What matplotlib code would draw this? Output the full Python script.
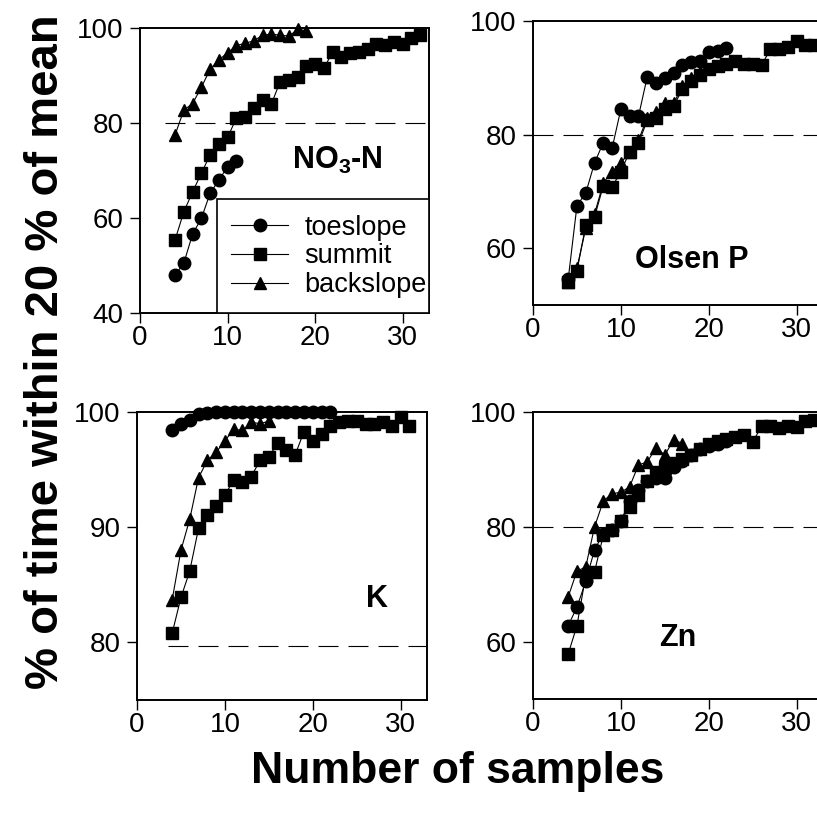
import matplotlib
matplotlib.use("Agg")
import matplotlib.pyplot as plt
from matplotlib.patches import Rectangle

plt.rcParams["font.family"] = ["Liberation Sans", "DejaVu Sans"]
plt.rcParams["mathtext.fontset"] = "custom"
plt.rcParams["mathtext.rm"] = "Liberation Sans:bold"

# ---- data (x = number of samples, y = % of time within 20 % of mean)
NO3_TOE_X = list(range(4, 12))
NO3_TOE_Y = [48.0, 50.5, 56.6, 59.9, 65.2, 68.0, 70.8, 71.9]
NO3_SUM_X = list(range(4, 33))
NO3_SUM_Y = [55.4, 61.3, 65.5, 69.4, 73.3, 75.6, 77.0, 81.0, 81.3, 83.2, 84.8, 84.0, 88.7, 89.1,
             89.6, 91.9, 92.4, 91.5, 95.0, 94.0, 94.7, 95.0, 95.5, 96.6, 96.4, 97.0, 96.6, 97.8, 98.6]
NO3_BACK_X = list(range(4, 20))
NO3_BACK_Y = [77.5, 82.7, 84.1, 87.5, 91.3, 93.3, 94.8, 96.3, 96.8, 97.3, 98.5, 98.7, 98.5, 98.3,
              99.7, 99.4]

OLSEN_TOE_X = list(range(4, 23))
OLSEN_TOE_Y = [54.5, 67.5, 69.7, 75.0, 78.6, 77.6, 84.5, 83.3, 83.2, 90.2, 89.1, 90.0, 90.8, 92.3,
               92.7, 92.9, 94.5, 94.8, 95.2]
OLSEN_SUM_X = list(range(4, 33))
OLSEN_SUM_Y = [54.0, 56.0, 64.0, 65.5, 71.0, 70.8, 73.5, 77.0, 78.5, 82.5, 83.0, 84.5, 85.0, 88.0,
               89.5, 90.5, 91.5, 92.0, 92.5, 93.0, 92.5, 92.5, 92.2, 95.0, 95.0, 95.5, 96.5, 95.8, 95.7]
OLSEN_BACK_X = list(range(4, 20))
OLSEN_BACK_Y = [54.0, 56.5, 63.5, 66.0, 71.5, 73.5, 75.0, 77.0, 79.0, 83.0, 84.0, 85.5, 85.5, 88.5,
                90.0, 91.0]

K_TOE_X = list(range(4, 23))
K_TOE_Y = [98.4, 99.0, 99.3, 99.8, 99.9, 100, 100, 100, 100, 100, 100, 100, 100, 100, 100, 100,
           100, 100, 100]
K_SUM_X = list(range(4, 32))
K_SUM_Y = [80.8, 83.9, 86.2, 89.9, 91.1, 91.8, 92.8, 94.1, 93.9, 94.4, 95.8, 96.1, 97.3, 96.7,
           96.3, 98.3, 97.5, 98.1, 98.8, 99.1, 99.2, 99.2, 99.0, 99.0, 99.1, 98.8, 99.6, 98.8]
K_BACK_X = list(range(4, 16))
K_BACK_Y = [83.7, 88.0, 90.7, 94.3, 95.8, 96.5, 97.5, 98.5, 98.4, 99.1, 99.0, 99.2]

ZN_TOE_X = list(range(4, 23))
ZN_TOE_Y = [62.8, 66.0, 70.5, 76.0, 78.8, 79.5, 81.0, 84.5, 86.5, 88.0, 88.5, 88.5, 90.5, 91.5,
            92.5, 93.5, 94.0, 94.5, 95.0]
ZN_SUM_X = list(range(4, 33))
ZN_SUM_Y = [57.8, 62.8, 71.5, 72.2, 78.5, 79.5, 81.0, 83.5, 85.5, 88.0, 89.5, 90.3, 91.2, 91.8,
            92.5, 93.5, 94.5, 95.0, 95.3, 95.6, 96.0, 94.8, 97.5, 97.6, 97.2, 97.6, 97.4, 98.5, 98.6]
ZN_BACK_X = list(range(4, 18))
ZN_BACK_Y = [67.8, 72.3, 73.0, 80.0, 84.5, 85.8, 86.0, 87.0, 90.8, 91.3, 93.8, 92.5, 95.2, 94.5]

SERIES_NAMES = ["toeslope", "summit", "backslope"]
MARKERS = {"toeslope": ("o", 9), "summit": ("s", 8), "backslope": ("^", 9)}

PANELS = [
    # label, series, ylim, yticks, ref line, label pos, axes rect, dash start
    ("NO$_3$-N", [(NO3_TOE_X, NO3_TOE_Y), (NO3_SUM_X, NO3_SUM_Y), (NO3_BACK_X, NO3_BACK_Y)],
     (40, 100), [40, 60, 80, 100], 80, (17.4, 72.2), [0.1714, 0.6178, 0.3537, 0.348], 2.8),
    ("Olsen P", [(OLSEN_TOE_X, OLSEN_TOE_Y), (OLSEN_SUM_X, OLSEN_SUM_Y), (OLSEN_BACK_X, OLSEN_BACK_Y)],
     (50, 100), [60, 80, 100], 80, (11.6, 57.9), [0.6524, 0.6276, 0.355, 0.3468], 0),
    ("K", [(K_TOE_X, K_TOE_Y), (K_SUM_X, K_SUM_Y), (K_BACK_X, K_BACK_Y)],
     (75, 100), [80, 90, 100], 79.7, (26.0, 83.8), [0.1677, 0.1453, 0.355, 0.3516], 3.5),
    ("Zn", [(ZN_TOE_X, ZN_TOE_Y), (ZN_SUM_X, ZN_SUM_Y), (ZN_BACK_X, ZN_BACK_Y)],
     (50, 100), [60, 80, 100], 80, (14.4, 60.7), [0.6524, 0.1465, 0.355, 0.3504], 0),
]


def draw_panel(fig, label, series, ylim, yticks, ref, label_pos, rect, dash_start, legend=False):
    ax = fig.add_axes(rect)
    ax.hlines(ref, dash_start, 33, colors="black", linewidth=0.8, linestyles=(0, (18, 9)))
    for name, (xs, ys) in zip(SERIES_NAMES, series):
        marker, ms = MARKERS[name]
        ax.plot(xs, ys, color="black", linewidth=0.8, marker=marker, markersize=ms,
                markerfacecolor="black", markeredgecolor="black", label=name, clip_on=False)
    ax.set_xlim(0, 33)
    ax.set_ylim(*ylim)
    ax.set_xticks([0, 10, 20, 30])
    ax.set_yticks(yticks)
    ax.tick_params(direction="out", length=7, width=1, labelsize=20)
    ax.tick_params(axis="x", pad=1.5)
    ax.tick_params(axis="y", pad=5)
    for spine in ax.spines.values():
        spine.set_linewidth(1.4)
    ax.text(label_pos[0], label_pos[1], label, fontsize=22, fontweight="bold",
            ha="left", va="center")
    if legend:
        # the legend box sits flush in the lower right corner of the panel
        ax.add_patch(Rectangle((0.266, 0), 0.734, 0.4, transform=ax.transAxes,
                               facecolor="white", edgecolor="black", linewidth=1.2, zorder=4))
        leg = ax.legend(loc="lower right", bbox_to_anchor=(1.035, 0.01), borderaxespad=0,
                        fontsize=19.5, frameon=False, handlelength=2.1, labelspacing=0.1,
                        handletextpad=0.6, borderpad=0.45)
        leg.set_zorder(5)
    return ax


def main():
    fig = plt.figure(figsize=(8.17, 8.19), dpi=100)
    for i, (label, series, ylim, yticks, ref, pos, rect, dash_start) in enumerate(PANELS):
        draw_panel(fig, label, series, ylim, yticks, ref, pos, rect, dash_start, legend=(i == 0))
    fig.text(0.056, 0.57, "% of time within 20 % of mean", rotation=90, fontsize=34,
             fontweight="bold", ha="center", va="center")
    fig.text(0.56, 0.058, "Number of samples", fontsize=32, fontweight="bold",
             ha="center", va="center")
    fig.savefig("out.png", dpi=100)
    plt.close(fig)


if __name__ == "__main__":
    main()
